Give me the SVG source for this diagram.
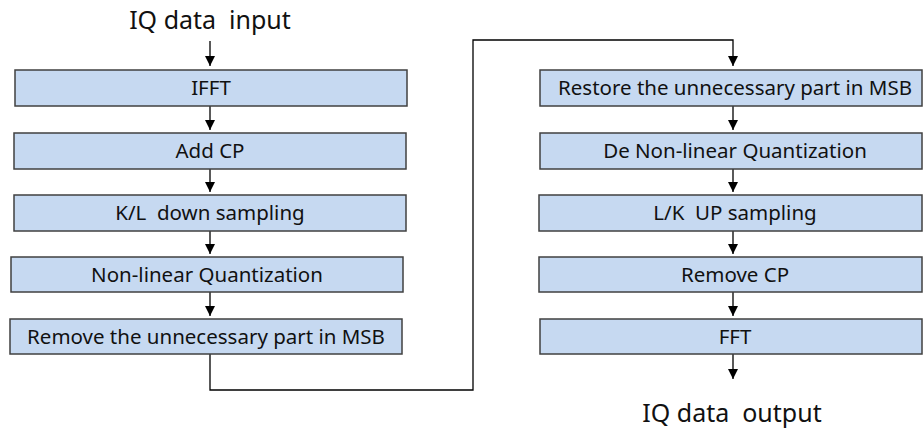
<svg xmlns="http://www.w3.org/2000/svg" width="923" height="430" viewBox="0 0 923 430">
<defs>
<style>
.box{fill:#C6D9F1;stroke:#404040;stroke-width:1.5}
.lbl{font-family:"Noto Sans","Open Sans",sans-serif;font-size:20.5px;fill:#111;text-anchor:middle;white-space:pre}
.big{font-family:"Noto Sans","Open Sans",sans-serif;font-size:25px;fill:#111;text-anchor:middle;white-space:pre}
.ln{fill:none;stroke:#000;stroke-width:1.3}
</style>
<marker id="arr" markerWidth="10" markerHeight="10" refX="10" refY="5" orient="auto" markerUnits="userSpaceOnUse" viewBox="0 0 10 10">
<path d="M0,0 L10,5 L0,10 Z" fill="#000"/>
</marker>
</defs>
<rect width="923" height="430" fill="#fff"/>
<text class="big" x="210" y="29">IQ data  input</text>
<text class="big" x="732" y="422">IQ data  output</text>
<g id="connectors">
<path class="ln" d="M210,41 V66" marker-end="url(#arr)"/>
<path class="ln" d="M210,106 V130" marker-end="url(#arr)"/>
<path class="ln" d="M210,169 V192" marker-end="url(#arr)"/>
<path class="ln" d="M210,231 V254" marker-end="url(#arr)"/>
<path class="ln" d="M210,292 V316" marker-end="url(#arr)"/>
<path class="ln" d="M210,354 V390 H473 V40 H733 V66" marker-end="url(#arr)"/>
<path class="ln" d="M733,106 V130" marker-end="url(#arr)"/>
<path class="ln" d="M733,169 V192" marker-end="url(#arr)"/>
<path class="ln" d="M733,231 V254" marker-end="url(#arr)"/>
<path class="ln" d="M733,292 V316" marker-end="url(#arr)"/>
<path class="ln" d="M733,354 V379" marker-end="url(#arr)"/>
</g>
<g id="ifft"><rect class="box" x="15" y="70" width="392" height="36"/><text class="lbl" x="211" y="95">IFFT</text></g>
<g id="addcp"><rect class="box" x="14" y="133" width="392" height="36"/><text class="lbl" x="210" y="158">Add CP</text></g>
<g id="down"><rect class="box" x="14" y="195" width="392" height="36"/><text class="lbl" x="210" y="220">K/L  down sampling</text></g>
<g id="quant"><rect class="box" x="11" y="257" width="392" height="35"/><text class="lbl" x="207" y="281.5">Non-linear Quantization</text></g>
<g id="remove"><rect class="box" x="10" y="319" width="392" height="35"/><text class="lbl" x="206" y="343.5">Remove the unnecessary part in MSB</text></g>
<g id="restore"><rect class="box" x="540" y="70" width="382" height="36"/><text class="lbl" x="735" y="95">Restore the unnecessary part in MSB</text></g>
<g id="dequant"><rect class="box" x="540" y="133" width="382" height="36"/><text class="lbl" x="735" y="158">De Non-linear Quantization</text></g>
<g id="up"><rect class="box" x="539" y="195" width="383" height="36"/><text class="lbl" x="735" y="220">L/K  UP sampling</text></g>
<g id="removecp"><rect class="box" x="539" y="257" width="383" height="35"/><text class="lbl" x="735" y="281.5">Remove CP</text></g>
<g id="fft"><rect class="box" x="540" y="319" width="382" height="35"/><text class="lbl" x="735" y="343.5">FFT</text></g>
</svg>
